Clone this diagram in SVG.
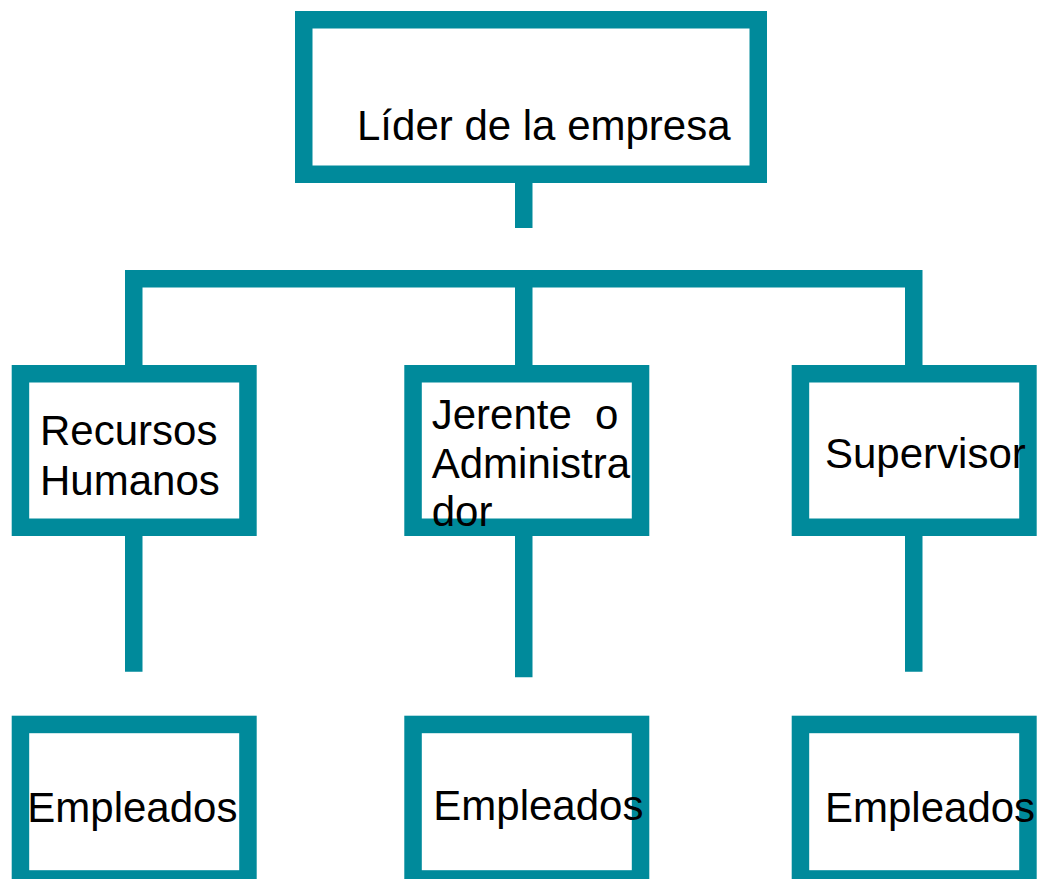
<svg xmlns="http://www.w3.org/2000/svg" width="1040" height="879" viewBox="0 0 1040 879">
<style>
.box{fill:#FFFFFF;stroke:#008A9B;stroke-width:17.5;stroke-linejoin:miter}
.ln{fill:none;stroke:#008A9B;stroke-width:17.5;stroke-linecap:butt;stroke-linejoin:miter}
.t{font-family:"Liberation Sans",Arial,sans-serif;font-size:42px;fill:#000000}
</style>
<rect width="1040" height="879" fill="#FFFFFF"/>
<g id="connectors">
<path class="ln" d="M523.75 183 V228"/>
<path class="ln" d="M133.75 365 V278.75 H913.75 V365"/>
<path class="ln" d="M523.75 278.75 V365"/>
<path class="ln" d="M133.75 536 V671.7"/>
<path class="ln" d="M523.75 536 V677.3"/>
<path class="ln" d="M913.75 536 V671.7"/>
</g>
<g id="lider">
<rect class="box" x="303.75" y="19.75" width="454.5" height="154.5"/>
<text class="t" x="357" y="140">Líder de la empresa</text>
</g>
<g id="recursos">
<rect class="box" x="20.45" y="373.75" width="227.5" height="153.5"/>
<text class="t" x="40" y="445">Recursos</text>
<text class="t" x="40" y="495">Humanos</text>
</g>
<g id="jerente">
<rect class="box" x="413.05" y="373.75" width="227.5" height="153.5"/>
<text class="t" x="431.7" y="428.5" xml:space="preserve">Jerente  o</text>
<text class="t" x="431.7" y="477.5">Administra</text>
<text class="t" x="431.7" y="526">dor</text>
</g>
<g id="supervisor">
<rect class="box" x="800.45" y="373.75" width="227.5" height="153.5"/>
<text class="t" x="825" y="468.3">Supervisor</text>
</g>
<g id="empleados1">
<rect class="box" x="20.45" y="724.45" width="227.5" height="154.5"/>
<text class="t" x="27.3" y="821.7">Empleados</text>
</g>
<g id="empleados2">
<rect class="box" x="413.05" y="724.45" width="227.5" height="154.5"/>
<text class="t" x="433.3" y="820">Empleados</text>
</g>
<g id="empleados3">
<rect class="box" x="800.45" y="724.45" width="227.5" height="154.5"/>
<text class="t" x="825" y="821.7">Empleados</text>
</g>
</svg>
